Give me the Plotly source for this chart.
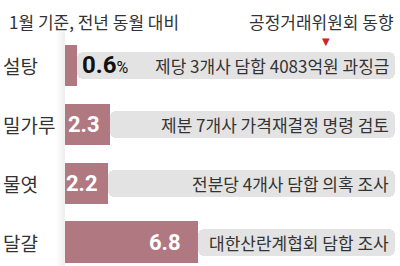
import plotly.graph_objects as go

categories = ["설탕", "밀가루", "물엿", "달걀"]
values = [0.6, 2.3, 2.2, 6.8]
value_labels = ["0.6", "2.3", "2.2", "6.8"]
actions = [
    "제당 3개사 담합 4083억원 과징금",
    "제분 7개사 가격재결정 명령 검토",
    "전분당 4개사 담합 의혹 조사",
    "대한산란계협회 담합 조사",
]
note_left = "1월 기준, 전년 동월 대비"
note_right = "공정거래위원회 동향"

W, H = 400, 266
ML, MR, MT, MB = 65, 5, 36, 0
PW, PH = W - ML - MR, H - MT - MB
XMAX = 16.87
BAR = "#b07880"
BAND = "#e3e3e3"
KR = "Noto Sans CJK KR"
NUM = "Roboto, Arial"

fig = go.Figure()
# grey bands continuing after each bar
fig.add_trace(go.Bar(
    y=categories, x=[XMAX - v for v in values], base=values,
    orientation="h", width=0.47, marker=dict(color=BAND, line=dict(width=0)),
    hoverinfo="skip", showlegend=False,
))
fig.add_trace(go.Bar(
    y=categories, x=values, orientation="h", width=0.71,
    marker=dict(color=BAR, line=dict(width=0)),
    hoverinfo="skip", showlegend=False,
))

ann = []
for i, (c, v, lab, act) in enumerate(zip(categories, values, value_labels, actions)):
    ann.append(dict(x=(1 - ML) / PW, xref="paper", y=c, yref="y",
                    text=c, xanchor="left", yanchor="middle", showarrow=False,
                    font=dict(family=KR, size=19, color="#333")))
    ann.append(dict(x=XMAX, xref="x", y=c, yref="y", text=act, xanchor="right",
                    yanchor="middle", showarrow=False, xshift=-4,
                    font=dict(family=KR, size=17, color="#333")))
    if i == 0:
        ann.append(dict(x=v, xref="x", y=c, yref="y",
                        text="<b>" + lab + "</b><span style='font-size:16px;font-weight:normal'>%</span>",
                        xanchor="left", yanchor="middle", showarrow=False, xshift=3,
                        font=dict(family=NUM, size=24, color="#111")))
    else:
        ann.append(dict(x=v, xref="x", y=c, yref="y", text="<b>" + lab + "</b>",
                        xanchor="right", yanchor="middle", showarrow=False,
                        xshift=-8 if v < 5 else -15,
                        font=dict(family=NUM, size=22, color="white")))

ann.append(dict(x=(7 - ML) / PW, xref="paper", y=1 + (MT - 22) / PH, yref="paper",
                text=note_left, xanchor="left", yanchor="middle", showarrow=False,
                font=dict(family=KR, size=17, color="#333")))
ann.append(dict(x=(396 - ML) / PW, xref="paper", y=1 + (MT - 22) / PH, yref="paper",
                text=note_right, xanchor="right", yanchor="middle", showarrow=False,
                font=dict(family=KR, size=17, color="#333")))
ann.append(dict(x=(326 - ML) / PW, xref="paper", y=1 + (MT - 41) / PH,
                yref="paper", text="▼", xanchor="center", yanchor="middle", showarrow=False,
                font=dict(family="DejaVu Sans", size=10, color="#d0202a")))

shapes = []
# subtle fold shadow left of the bars
for k, op in enumerate([0.03, 0.05, 0.08, 0.11]):
    shapes.append(dict(type="rect", xref="paper", yref="paper",
                       x0=(ML - 8 + 2 * k - ML) / PW,
                       x1=(ML - 6 + 2 * k - ML) / PW,
                       y0=0, y1=1.02, fillcolor=f"rgba(120,120,120,{op})", line=dict(width=0),
                       layer="below"))

fig.update_layout(
    width=W, height=H, margin=dict(l=ML, r=MR, t=MT, b=MB),
    paper_bgcolor="white", plot_bgcolor="white",
    barmode="overlay", barcornerradius=6, bargap=0,
    xaxis=dict(range=[0, XMAX], visible=False, fixedrange=True),
    yaxis=dict(range=[3.4, -0.5], visible=False, fixedrange=True,
               categoryorder="array", categoryarray=categories),
    annotations=ann, shapes=shapes,
)
fig.write_html("out.html")
